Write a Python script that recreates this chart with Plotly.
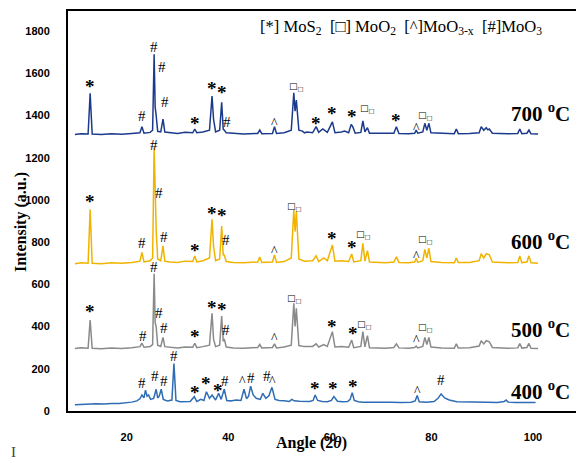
import plotly.graph_objects as go

# ---------------- data ----------------
x700 = [
    9.8, 11.0, 12.4, 12.8, 13.2, 15.0, 17.0, 19.0, 21.0, 22.6,
    23.0, 23.4, 24.6, 25.1, 25.4, 25.6, 25.8, 26.1, 26.7, 27.15,
    27.5, 28.5, 30.0, 31.5, 33.0, 33.4, 33.8, 35.0, 36.3, 36.8,
    37.1, 37.5, 38.3, 38.7, 39.0, 39.2, 39.6, 41.0, 43.0, 45.8,
    46.2, 46.6, 48.7, 49.1, 49.5, 51.0, 52.4, 52.9, 53.15, 53.4,
    53.9, 54.6, 55.0, 55.5, 56.6, 57.3, 57.8, 58.6, 59.5, 60.5,
    61.0, 62.3, 62.9, 63.7, 64.2, 64.5, 65.0, 66.1, 66.5, 66.9,
    67.4, 67.8, 69.5, 71.0, 72.6, 73.1, 73.6, 75.5, 76.7, 77.0,
    77.3, 78.3, 78.7, 79.1, 79.5, 79.9, 82.0, 84.5, 84.9, 85.3,
    87.5, 89.4, 89.8, 90.3, 90.8, 91.1, 91.4, 92.0, 95.0, 97.0,
    97.4, 97.8, 98.8, 99.2, 99.6, 101.0]
y700 = [
    1310, 1314, 1312, 1505, 1312, 1310, 1314, 1311, 1315, 1318,
    1347, 1316, 1320, 1330, 1690, 1441, 1400, 1325, 1322, 1383,
    1322, 1318, 1315, 1320, 1318, 1336, 1318, 1322, 1330, 1492,
    1382, 1322, 1330, 1462, 1335, 1331, 1318, 1316, 1312, 1315,
    1331, 1314, 1315, 1347, 1315, 1318, 1330, 1508, 1420, 1473,
    1330, 1326, 1318, 1322, 1318, 1347, 1320, 1336, 1320, 1370,
    1318, 1322, 1326, 1318, 1358, 1347, 1316, 1320, 1374, 1322,
    1342, 1316, 1315, 1314, 1316, 1347, 1315, 1314, 1316, 1331,
    1316, 1322, 1363, 1330, 1363, 1318, 1315, 1314, 1336, 1314,
    1315, 1318, 1347, 1330, 1342, 1332, 1336, 1316, 1313, 1315,
    1336, 1314, 1316, 1331, 1313, 1312]

x600 = [
    9.8, 11.0, 12.4, 12.8, 13.2, 15.0, 17.0, 19.0, 21.0, 22.6,
    23.0, 23.4, 24.6, 25.1, 25.4, 25.6, 25.8, 26.1, 26.7, 27.15,
    27.5, 28.5, 30.0, 31.5, 33.0, 33.4, 33.8, 35.0, 36.3, 36.8,
    37.1, 37.5, 38.3, 38.7, 39.0, 39.2, 39.6, 41.0, 43.0, 45.8,
    46.2, 46.6, 48.7, 49.1, 49.5, 51.0, 52.4, 52.9, 53.15, 53.4,
    53.9, 55.0, 56.6, 57.3, 57.8, 58.8, 59.5, 60.5, 61.0, 62.3,
    63.7, 64.3, 64.7, 66.1, 66.5, 66.9, 67.4, 67.8, 69.5, 71.0,
    72.6, 73.1, 73.6, 75.5, 76.7, 77.0, 77.3, 78.3, 78.7, 79.1,
    79.5, 79.9, 82.0, 84.5, 84.9, 85.3, 87.5, 89.4, 89.8, 90.3,
    90.8, 91.4, 92.0, 95.0, 97.0, 97.4, 97.8, 98.8, 99.2, 99.6,
    101.0]
y600 = [
    698, 702, 700, 955, 700, 698, 702, 700, 704, 710,
    751, 706, 712, 725, 1250, 1007, 857, 720, 712, 782,
    710, 706, 704, 710, 708, 734, 706, 712, 725, 908,
    780, 712, 720, 876, 740, 739, 708, 704, 702, 706,
    730, 704, 706, 739, 704, 708, 725, 952, 850, 945,
    720, 710, 712, 735, 708, 725, 712, 786, 710, 712,
    708, 744, 706, 712, 794, 710, 760, 706, 704, 702,
    706, 730, 704, 702, 706, 724, 704, 712, 766, 725,
    771, 708, 704, 702, 725, 703, 704, 712, 745, 725,
    745, 740, 706, 702, 704, 735, 703, 706, 735, 702,
    700]

x500 = [
    9.8, 11.0, 12.4, 12.8, 13.2, 15.0, 17.0, 19.0, 21.0, 22.6,
    23.0, 23.4, 24.6, 25.1, 25.4, 25.6, 25.8, 26.1, 26.7, 27.15,
    27.5, 28.5, 30.0, 31.5, 33.0, 33.4, 33.8, 35.0, 36.3, 36.8,
    37.1, 37.5, 38.3, 38.7, 39.0, 39.2, 39.6, 41.0, 43.0, 45.8,
    46.2, 46.6, 48.7, 49.1, 49.5, 51.0, 52.4, 52.9, 53.15, 53.4,
    53.9, 55.0, 56.6, 57.3, 57.8, 58.8, 59.5, 60.5, 61.0, 62.3,
    63.7, 64.3, 64.7, 66.1, 66.5, 66.9, 67.4, 67.8, 69.5, 71.0,
    72.6, 73.1, 73.6, 75.5, 76.7, 77.0, 77.3, 78.3, 78.7, 79.1,
    79.5, 79.9, 82.0, 84.5, 84.9, 85.3, 87.5, 89.4, 89.8, 90.3,
    90.8, 91.4, 92.0, 95.0, 97.0, 97.4, 97.8, 98.8, 99.2, 99.6,
    101.0]
y500 = [
    296, 300, 297, 431, 297, 295, 299, 296, 300, 305,
    321, 302, 306, 315, 650, 420, 399, 312, 306, 349,
    305, 301, 298, 303, 302, 321, 300, 305, 312, 463,
    340, 305, 312, 450, 330, 342, 303, 299, 297, 301,
    315, 299, 301, 318, 299, 303, 312, 510, 400, 486,
    310, 305, 306, 318, 303, 315, 306, 376, 303, 306,
    302, 336, 300, 306, 376, 304, 357, 300, 299, 297,
    301, 318, 299, 297, 301, 308, 299, 306, 349, 315,
    349, 303, 299, 297, 318, 298, 300, 308, 333, 318,
    333, 328, 301, 297, 299, 320, 298, 301, 320, 297,
    296]

x400 = [
    9.8, 11.0, 12.5, 14.0, 15.5, 17.0, 18.5, 20.0, 21.0, 22.0,
    22.6, 23.0, 23.4, 23.7, 24.0, 24.3, 24.7, 25.3, 25.8, 26.1,
    26.4, 26.8, 27.2, 28.0, 28.9, 29.3, 29.7, 30.5, 31.5, 32.5,
    33.3, 33.8, 34.6, 35.2, 35.7, 36.3, 36.8, 37.5, 38.1, 38.6,
    39.2, 39.7, 40.5, 41.5, 42.5, 43.1, 43.6, 44.0, 44.4, 44.9,
    45.5, 46.3, 46.8, 47.4, 48.0, 48.6, 49.2, 50.0, 51.0, 52.0,
    52.5, 53.0, 54.0, 55.0, 56.0, 56.7, 57.1, 57.6, 58.5, 59.5,
    60.3, 60.8, 61.5, 62.5, 63.5, 64.0, 64.4, 64.8, 65.6, 66.5,
    68.0, 70.0, 72.0, 74.0, 76.0, 76.8, 77.2, 77.6, 79.0, 80.5,
    81.3, 81.9, 82.6, 83.5, 85.0, 87.0, 89.0, 91.0, 93.0, 94.3,
    94.7, 95.1, 96.5, 98.0, 99.5, 100.5]
y400 = [
    30, 32, 31, 34, 33, 36, 35, 38, 42, 48,
    58, 76, 62, 99, 70, 76, 55, 60, 103, 62,
    70, 103, 55, 48, 52, 225, 50, 44, 46, 45,
    68, 45, 55, 50, 91, 60, 76, 52, 84, 55,
    103, 50, 48, 52, 50, 103, 58, 70, 118, 76,
    60, 55, 84, 60, 72, 112, 55, 50, 48, 45,
    55, 48, 46, 44, 45, 50, 76, 50, 45, 44,
    50, 68, 46, 44, 45, 55, 87, 50, 44, 42,
    43, 41, 42, 40, 42, 48, 73, 44, 42, 45,
    60, 81, 62, 52, 44, 42, 40, 41, 40, 45,
    52, 42, 40, 41, 39, 40]

BOX = "□<sub>□</sub>"

# peak labels: x, y (centre of the mark), symbol
lx700 = [12.8, 23.0, 25.4, 27.0, 27.5, 33.4, 36.8, 38.8, 39.8, 49.1, 53.4, 57.3, 60.5, 64.3, 67.4, 73.1, 77.1, 78.9]
ly700 = [1536, 1399, 1726, 1631, 1465, 1360, 1528, 1508, 1368, 1363, 1536, 1363, 1410, 1394, 1434, 1378, 1336, 1402]
lt700 = ["*", "#", "#", "#", "#", "*", "*", "*", "#", "^", BOX, "*", "*", "*", BOX, "*", "^", BOX]

lx600 = [12.8, 23.1, 25.4, 26.3, 27.3, 33.4, 36.7, 38.8, 39.6, 49.1, 53.0, 60.5, 64.3, 66.7, 77.1, 78.9]
ly600 = [991, 794, 1262, 1034, 823, 759, 936, 924, 810, 755, 971, 818, 775, 834, 731, 813]
lt600 = ["*", "#", "#", "#", "#", "*", "*", "*", "#", "^", BOX, "*", "*", BOX, "^", BOX]

lx500 = [12.8, 23.2, 25.4, 26.3, 27.3, 33.4, 36.7, 38.8, 39.6, 49.1, 53.0, 60.5, 64.5, 66.8, 77.1, 78.9]
ly500 = [470, 355, 680, 466, 392, 355, 491, 482, 384, 344, 534, 399, 365, 412, 336, 396]
lt500 = ["*", "#", "#", "#", "#", "*", "*", "*", "#", "^", BOX, "*", "*", BOX, "^", BOX]

lx400 = [23.1, 25.6, 27.3, 29.3, 33.4, 35.7, 37.9, 39.4, 42.7, 44.4, 47.7, 48.8, 57.1, 60.7, 64.6, 77.2, 81.9]
ly400 = [134, 166, 144, 262, 87, 128, 96, 144, 139, 155, 166, 139, 107, 107, 115, 91, 147]
lt400 = ["#", "#", "#", "#", "*", "*", "*", "#", "^", "#", "#", "^", "*", "*", "*", "^", "#"]

temps = ["700", "600", "500", "400"]
temp_y = [1412, 810, 393, 99]

colors = {"700": "#1c3a8c", "600": "#f0b400", "500": "#8a8a8a", "400": "#2e6cb3"}

legend_text = ("[*] MoS<sub>2</sub>  [□] MoO<sub>2</sub>  "
               "[^]MoO<sub>3-x</sub>  [#]MoO<sub>3</sub>")

# ---------------- figure ----------------
# the page body adds an 8px margin, so the figure is 8px smaller and
# positions below are given in page pixels minus that offset
OFF = 8
W, H = 584 - OFF, 463 - OFF
ML, MR, MT, MB = 68 - OFF, 0, 11 - OFF, 52
pw, ph = W - ML - MR, H - MT - MB


def px_x(p):
    return (p - OFF - ML) / pw


def px_y(p):
    return 1 - (p - OFF - MT) / ph


fig = go.Figure()
series = [("700", x700, y700), ("600", x600, y600), ("500", x500, y500), ("400", x400, y400)]
for name, xs, ys in series:
    fig.add_trace(go.Scatter(x=xs, y=ys, mode="lines",
                             line=dict(color=colors[name], width=1.5),
                             showlegend=False, hoverinfo="skip"))

SERIF = "Liberation Serif, Times New Roman, serif"
for lx, ly, lt in [(lx700, ly700, lt700), (lx600, ly600, lt600),
                   (lx500, ly500, lt500), (lx400, ly400, lt400)]:
    for xv, yv, t in zip(lx, ly, lt):
        if t == "*":
            f = dict(family=SERIF, size=19, color="black", weight="bold")
        elif t == "#":
            f = dict(family=SERIF, size=15, color="black")
        elif t == "^":
            f = dict(family=SERIF, size=14, color="black")
        else:
            f = dict(family="DejaVu Sans", size=9, color="black", weight="bold")
        fig.add_annotation(x=xv, y=yv, xref="x", yref="y", text=t,
                           showarrow=False, font=f,
                           xanchor="center", yanchor="middle")

for t, yv in zip(temps, temp_y):
    fig.add_annotation(x=107.7, y=yv, xref="x", yref="y",
                       text=t + " <sup>o</sup>C", showarrow=False,
                       font=dict(family=SERIF, size=21, color="black", weight="bold"),
                       xanchor="right", yanchor="middle")

fig.add_annotation(x=px_x(258), y=px_y(28), xref="paper", yref="paper", text=legend_text,
                   showarrow=False, font=dict(family=SERIF, size=16.6, color="black"),
                   xanchor="left", yanchor="middle")
fig.add_annotation(x=px_x(311), y=px_y(443), xref="paper", yref="paper",
                   text="Angle (2<i>θ</i>)", showarrow=False,
                   font=dict(family=SERIF, size=16, color="black", weight="bold"),
                   xanchor="center", yanchor="middle")
fig.add_annotation(x=px_x(21), y=px_y(222), xref="paper", yref="paper",
                   text="Intensity (a.u.)", showarrow=False, textangle=-90,
                   font=dict(family=SERIF, size=16, color="black", weight="bold"),
                   xanchor="center", yanchor="middle")
fig.add_annotation(x=px_x(9), y=px_y(452), xref="paper", yref="paper",
                   text="I", showarrow=False,
                   font=dict(family=SERIF, size=15, color="#444444"),
                   xanchor="left", yanchor="middle")

TICKF = dict(family="Liberation Sans Narrow, Arial Narrow, sans-serif", size=11,
             color="black", weight="bold")
fig.update_layout(
    width=W, height=H,
    margin=dict(l=ML, r=MR, t=MT, b=MB, autoexpand=False),
    paper_bgcolor="white", plot_bgcolor="white",
    xaxis=dict(range=[8.44, 110.04], tickvals=[20, 40, 60, 80, 100],
               showline=True, linecolor="black", linewidth=2, mirror=True,
               ticks="", showgrid=False, zeroline=False, tickfont=TICKF,
               ticklabelstandoff=15),
    yaxis=dict(range=[0, 1895], tickvals=list(range(0, 1801, 200)),
               showline=True, linecolor="black", linewidth=2, mirror=False,
               ticks="", showgrid=False, zeroline=False, tickfont=TICKF,
               ticklabelstandoff=14),
)

fig.write_html("out.html")
